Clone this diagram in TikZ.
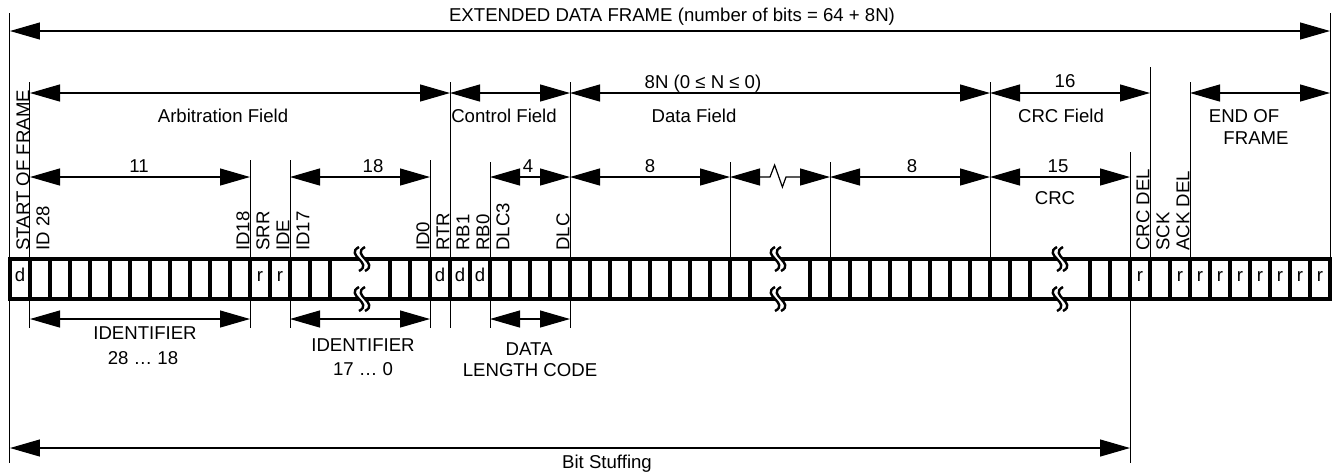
\documentclass[tikz,border=0pt]{standalone}
\usepackage{fontspec}
\setmainfont{Liberation Sans}
\usetikzlibrary{arrows.meta}

\begin{document}
\begin{tikzpicture}[
  x=10pt, y=-0.5pt,
  every node/.style={font=\fontsize{9.3}{11}\selectfont, inner sep=0pt},
  txt/.style={anchor=base},
  vtxt/.style={rotate=90, anchor=base west},
  dim/.style={line width=0.6pt, {Triangle[length=15pt,width=8.5pt]}-{Triangle[length=15pt,width=8.5pt]}},
  tick/.style={line width=0.5pt},
  bitrow/.style={line width=2pt},
  brk/.style={line width=1.2pt}
]
  \useasboundingbox (-0.5,0) rectangle (66.1,473);

  % field borders
  \foreach \x/\ya/\yb in {0/13/463, 1/82/328, 12/160/328, 14/160/328, 21/160/328,
      22/82/328, 24/162/328, 28/82/328, 36/162/259, 41/162/259, 49/82/259,
      56/152/463, 57/67/259, 59/82/259, 66/13/259}
    \draw[tick] (\x,\ya) -- (\x,\yb);

  % bit cells
  \draw[bitrow] (0,259) rectangle (66,299);
  \foreach \x in {1,...,16,19,20,...,37,40,41,...,51,54,55,...,65}
    \draw[bitrow] (\x,259) -- (\x,299);
  \foreach \x/\v in {0/d, 12/r, 13/r, 21/d, 22/d, 23/d, 56/r, 58/r,
      59/r, 60/r, 61/r, 62/r, 63/r, 64/r, 65/r}
    \node[txt] (v\x) at (\x+0.5,281.5) {\v};

  % breaks in the bit row
  \foreach \sx in {17.6,38.4,52.5}
    \foreach \sy in {259,299} {
      \fill[white] (\sx-0.15,\sy-12) .. controls (\sx-0.9,\sy-4) and (\sx+0.6,\sy+4) .. (\sx-0.15,\sy+12)
        -- (\sx+0.15,\sy+12) .. controls (\sx+0.9,\sy+4) and (\sx-0.6,\sy-4) .. (\sx+0.15,\sy-12) -- cycle;
      \draw[brk] (\sx-0.15,\sy-12) .. controls (\sx-0.9,\sy-4) and (\sx+0.6,\sy+4) .. (\sx-0.15,\sy+12);
      \draw[brk] (\sx+0.15,\sy-12) .. controls (\sx-0.6,\sy-4) and (\sx+0.9,\sy+4) .. (\sx+0.15,\sy+12);
    }

  % bit names
  \foreach \x/\t in {0/START OF FRAME, 1/ID 28, 11/ID18, 12/SRR, 13/IDE, 14/ID17,
      20/ID0, 21/RTR, 22/RB1, 23/RB0, 24/DLC3, 27/DLC, 56/CRC DEL, 57/SCK, 58/ACK DEL}
    \node[vtxt] (l\x) at (\x+0.97,251) {\t};

  % arrow ends
  \foreach \n/\x/\y in {fl/0/31, fr/66/31,
      a1/1/93, a22/22/93, a28/28/93, a49/49/93, a57/57/93, a59/59/93, a66/66/93,
      b1/1/177, b12/12/177, b14/14/177, b21/21/177, b24/24/177, b28/28/177,
      b36/36/177, b41/41/177, b49/49/177, b56/56/177,
      c1/1/319, c12/12/319, c14/14/319, c21/21/319, c24/24/319, c28/28/319,
      sl/0/448, sr/56/448}
    \coordinate (\n) at (\x,\y);

  \draw[dim] (fl) -- (fr);
  \draw[dim] (a1) -- (a22);
  \draw[dim] (a22) -- (a28);
  \draw[dim] (a28) -- (a49);
  \draw[dim] (a49) -- (a57);
  \draw[dim] (a59) -- (a66);
  \draw[dim] (b1) -- (b12);
  \draw[dim] (b14) -- (b21);
  \draw[dim] (b24) -- (b28);
  \draw[dim] (b28) -- (b36);
  \draw[dim] (b36) -- +(2,0) -- +(2.23,-12) -- +(2.62,10) -- +(2.8,0) -- (b41);
  \draw[dim] (b41) -- (b49);
  \draw[dim] (b49) -- (b56);
  \draw[dim] (c1) -- (c12);
  \draw[dim] (c14) -- (c21);
  \draw[dim] (c24) -- (c28);
  \draw[dim] (sl) -- (sr);

  % labels
  \node[txt] (title) at (33.1,21) {EXTENDED DATA FRAME (number of bits = 64 + 8N)};
  \node[txt] (arb) at (10.65,122.5) {Arbitration Field};
  \node[txt] (ctrl) at (24.7,122) {Control Field};
  \node[txt] (dlen) at (34.65,88) {8N (0 ≤ N ≤ 0)};
  \node[txt] (data) at (34.2,122) {Data Field};
  \node[txt] (crclen) at (52.75,87.5) {16};
  \node[txt] (crcf) at (52.55,122.5) {CRC Field};
  \node[txt] (eof1) at (61.7,122.5) {END OF};
  \node[txt] (eof2) at (62.3,144) {FRAME};
  \node[txt] (n11) at (6.45,172) {11};
  \node[txt] (n18) at (18.15,172) {18};
  \node[txt] (n4) at (25.9,172) {4};
  \node[txt] (n8a) at (32,172) {8};
  \node[txt] (n8b) at (45.1,172) {8};
  \node[txt] (n15) at (52.4,172) {15};
  \node[txt] (crc) at (52.25,204) {CRC};
  \node[txt] (id1) at (6.75,339.5) {IDENTIFIER};
  \node[txt] (id1r) at (6.65,364) {28 … 18};
  \node[txt] (id2) at (17.65,351.5) {IDENTIFIER};
  \node[txt] (id2r) at (17.65,375) {17 … 0};
  \node[txt] (dlc1) at (25.95,355) {DATA};
  \node[txt] (dlc2) at (26,376.5) {LENGTH CODE};
  \node[txt] (stuff) at (29.85,468) {Bit Stuffing};
\end{tikzpicture}
\end{document}
